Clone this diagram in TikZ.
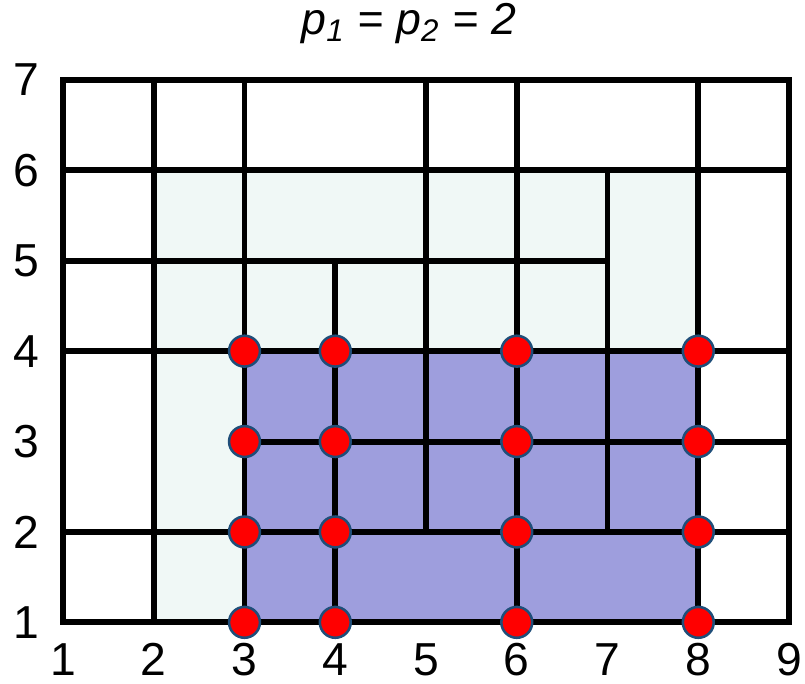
\documentclass[tikz,border=0pt]{standalone}
\usepackage{fontspec}
\setmainfont{Liberation Sans}
\usepackage{xcolor}
\usepackage{tikz}
\usetikzlibrary{calc, positioning}

\definecolor{lightpatch}{RGB}{240,248,246}
\definecolor{darkpatch}{RGB}{158,158,221}
\definecolor{knotrim}{RGB}{31,78,121}

\begin{document}
\begin{tikzpicture}[x=1cm, y=0.996cm,
    meshline/.style={line width=1.85pt, line cap=rect},
    knot/.style={circle, fill=red, draw=knotrim, line width=0.8pt, minimum size=0.34cm, inner sep=0pt},
    idx/.style={font=\fontsize{14.5}{17}\selectfont, inner sep=0pt}]

    \useasboundingbox (0.306,0.325) rectangle (9.176,7.885);

    % =================================================================
    % SUPPORT REGIONS
    % =================================================================
    \fill[lightpatch] (2,1) rectangle (3,6);
    \fill[lightpatch] (3,4) rectangle (8,6);
    \fill[darkpatch] (3,1) rectangle (8,4);

    % =================================================================
    % T-MESH
    % =================================================================
    % horizontal lines
    \draw[meshline] (1,2) -- (9,2);
    \draw[meshline] (3,3) -- (9,3);
    \draw[meshline] (1,4) -- (9,4);
    \draw[meshline] (1,5) -- (7,5);
    \draw[meshline] (1,6) -- (9,6);

    % vertical lines
    \draw[meshline] (2,1) -- (2,7);
    \draw[meshline] (3,1) -- (3,7);
    \draw[meshline] (4,1) -- (4,5);
    \draw[meshline] (5,2) -- (5,7);
    \draw[meshline] (6,1) -- (6,7);
    \draw[meshline] (7,2) -- (7,6);
    \draw[meshline] (8,1) -- (8,7);

    % outer frame
    \draw[line width=1.85pt] (1,1) rectangle (9,7);

    % knots
    \foreach \i in {3,4,6,8}
        \foreach \j in {1,...,4}
            \node[knot] (k\i\j) at (\i,\j) {};

    % =================================================================
    % INDICES AND TITLE
    % =================================================================
    \foreach \i in {1,...,9}
        \node[idx, anchor=base] (xl\i) at (\i,0.41) {\i};
    \foreach \j in {1,...,7}
        \node[idx] (yl\j) at (0.6,\j) {\j};

    \node[anchor=base, inner sep=0pt, font=\fontsize{14}{16}\selectfont\itshape] (title) at (4.81,7.5)
        {p\textsubscript{1} = p\textsubscript{2} = 2};

\end{tikzpicture}
\end{document}
